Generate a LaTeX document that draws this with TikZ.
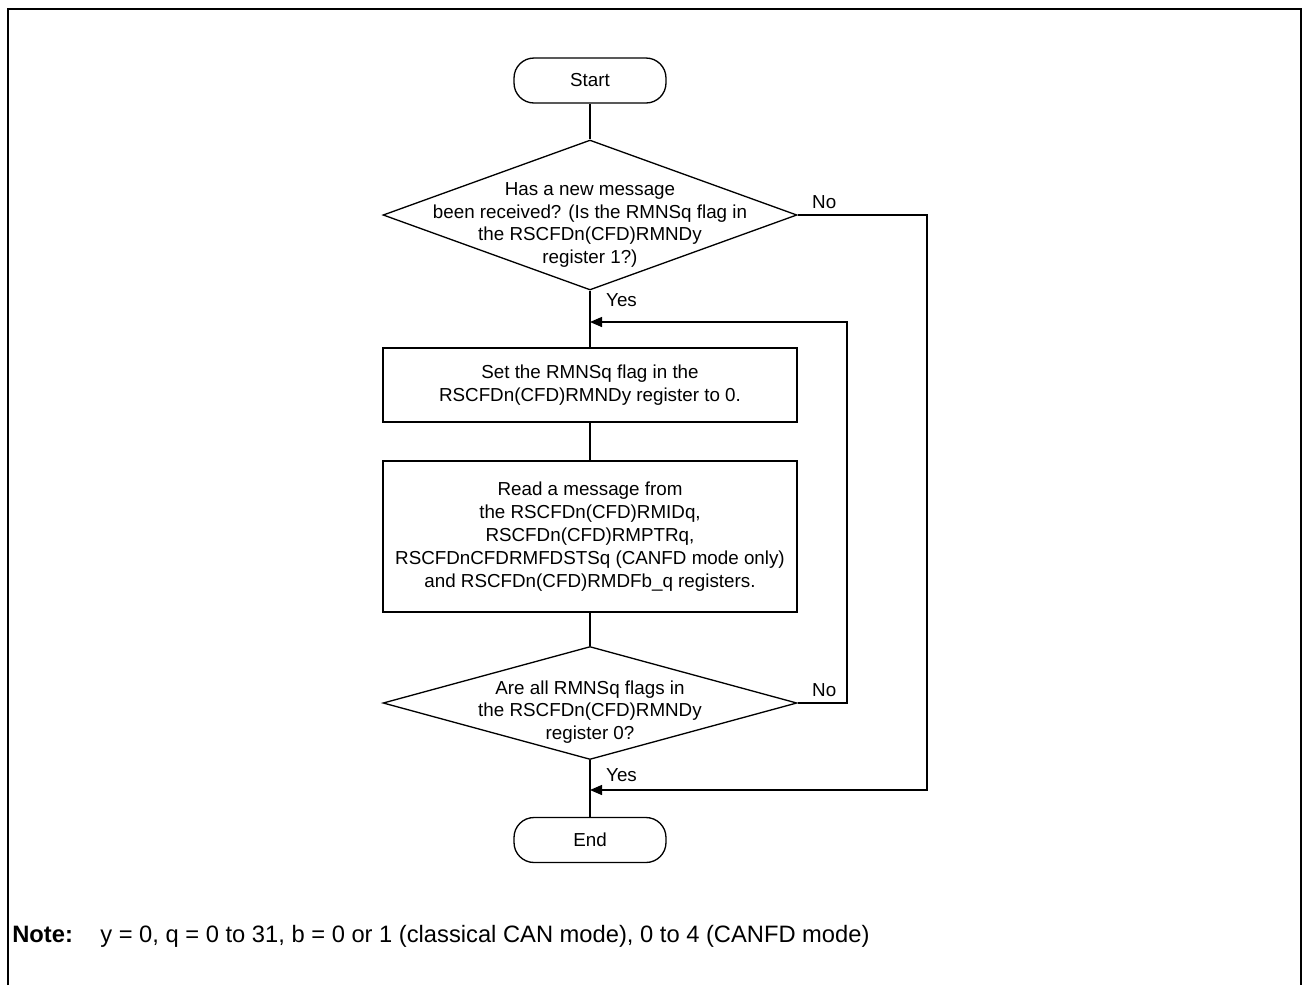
\documentclass[tikz,border=0pt]{standalone}
\usepackage{fontspec}
\setmainfont{Liberation Sans}
\usepackage{tikz}
\usetikzlibrary{shapes.geometric,arrows.meta}

\begin{document}
\begin{tikzpicture}[x=0.02cm,y=-0.02cm,
  every node/.style={font=\fontsize{10.7}{13}\selectfont},
  terminal/.style={draw,line width=0.75pt,rounded corners=0.4cm,minimum width=3.04cm,minimum height=0.9cm,inner sep=0pt},
  process/.style={draw,line width=0.75pt,minimum width=8.28cm,align=center,inner sep=0pt},
  decision/.style={draw,line width=0.75pt,diamond,minimum width=8.28cm,inner sep=0pt},
  txt/.style={align=center,inner sep=0pt},
  flow/.style={line width=0.75pt},
  arr/.style={line width=0.75pt,-{Triangle[length=0.24cm,width=0.2cm]}}]
\useasboundingbox (0,0) rectangle (1303,985);
\draw[line width=1.4pt] (8,985)--(8,9)--(1301,9)--(1301,985);

\node[terminal] (start) at (590,80.5) {Start};
\node[decision,minimum height=3cm] (d1) at (590,215) {};
\node[txt] (d1text) at (590,225) {Has a new message\\been received? (Is the RMNSq flag in\\the RSCFDn(CFD)RMNDy\\register 1?)};
\node[process,minimum height=1.48cm] (clear) at (590,385) {Set the RMNSq flag in the\\RSCFDn(CFD)RMNDy register to 0.};
\node[process,minimum height=3.02cm] (read) at (590,536.5) {Read a message from\\the RSCFDn(CFD)RMIDq,\\RSCFDn(CFD)RMPTRq,\\RSCFDnCFDRMFDSTSq (CANFD mode only)\\and RSCFDn(CFD)RMDFb\_q registers.};
\node[decision,minimum height=2.26cm] (d2) at (590,703) {};
\node[txt] (d2text) at (590,712) {Are all RMNSq flags in\\the RSCFDn(CFD)RMNDy\\register 0?};
\node[terminal] (end) at (590,840) {End};

\coordinate (loopR) at (847,322);
\coordinate (loopL) at (590,322);
\coordinate (skipR) at (927,790);
\coordinate (skipL) at (590,790);

\draw[flow] (start)--(d1);
\draw[flow] (d1)--(clear);
\draw[flow] (clear)--(read);
\draw[flow] (read)--(d2);
\draw[flow] (d2)--(end);
\draw[arr] (d2.east)-|(loopR)--(loopL);
\draw[arr] (d1.east)-|(skipR)--(skipL);

\node[anchor=west] (no1) at (806,202) {No};
\node[anchor=west] (yes1) at (600,300) {Yes};
\node[anchor=west] (no2) at (806,690) {No};
\node[anchor=west] (yes2) at (600,775) {Yes};

\node[anchor=base west,inner sep=0pt,font=\fontsize{13.5}{16}\selectfont] (note) at (12,942) {\textbf{Note:}};
\node[anchor=base west,inner sep=0pt,font=\fontsize{13.5}{16}\selectfont] (notetext) at (100,942) {y = 0, q = 0 to 31, b = 0 or 1 (classical CAN mode), 0 to 4 (CANFD mode)};
\end{tikzpicture}
\end{document}
